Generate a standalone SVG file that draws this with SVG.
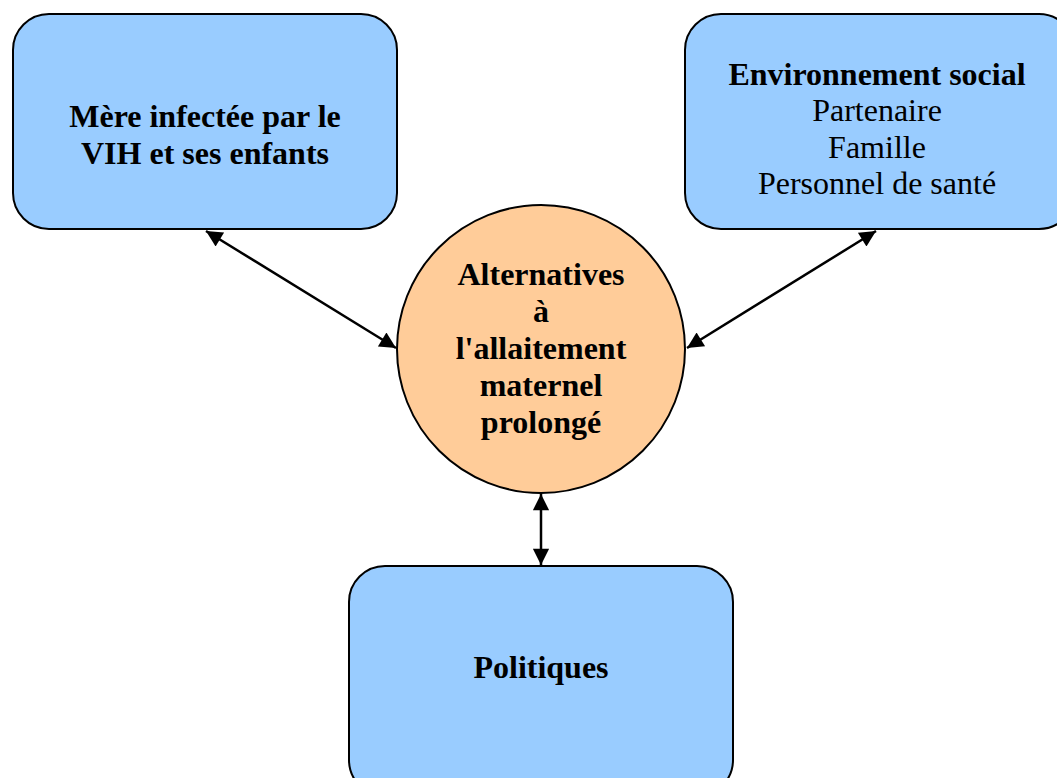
<svg xmlns="http://www.w3.org/2000/svg" width="1057" height="778" viewBox="0 0 1057 778">
<style>
.box{fill:#99ccff;stroke:#000;stroke-width:2}
.circ{fill:#ffcc99;stroke:#000;stroke-width:2}
.t{font-family:"Liberation Serif","Times New Roman",serif;font-size:32px;fill:#000;text-anchor:middle}
.b{font-weight:bold}
.c{font-family:"Liberation Serif","Times New Roman",serif;font-size:32px;font-weight:bold;fill:#000;text-anchor:middle}
.con{stroke:#000;stroke-width:2.5;fill:none;marker-start:url(#ah);marker-end:url(#ah)}
</style>
<defs>
<marker id="ah" viewBox="0 0 10 10" refX="10" refY="5" markerWidth="8" markerHeight="6.5" markerUnits="strokeWidth" orient="auto-start-reverse">
<path d="M0,0 L10,5 L0,10 z" fill="#000"/>
</marker>
</defs>
<g id="connectors">
<line class="con" x1="206" y1="231" x2="396" y2="348"/>
<line class="con" x1="876" y1="231" x2="687" y2="348"/>
<line class="con" x1="541" y1="494" x2="541" y2="565"/>
</g>
<g id="mere">
<rect class="box" x="13" y="14" width="384" height="215" rx="36"/>
<text class="t b" x="205" y="127">Mère infectée par le</text>
<text class="t b" x="205" y="164">VIH et ses enfants</text>
</g>
<g id="env">
<rect class="box" x="685" y="14" width="390" height="215" rx="36"/>
<text class="t b" x="877" y="85">Environnement social</text>
<text class="t" x="877" y="121">Partenaire</text>
<text class="t" x="877" y="158">Famille</text>
<text class="t" x="877" y="194">Personnel de santé</text>
</g>
<g id="alt">
<circle class="circ" cx="541" cy="349" r="144"/>
<text class="c" x="541" y="285">Alternatives</text>
<text class="c" x="541" y="322">à</text>
<text class="c" x="541" y="359">l'allaitement</text>
<text class="c" x="541" y="396">maternel</text>
<text class="c" x="541" y="433">prolongé</text>
</g>
<g id="pol">
<rect class="box" x="349" y="566" width="384" height="230" rx="36"/>
<text class="t b" x="541" y="678">Politiques</text>
</g>
</svg>
